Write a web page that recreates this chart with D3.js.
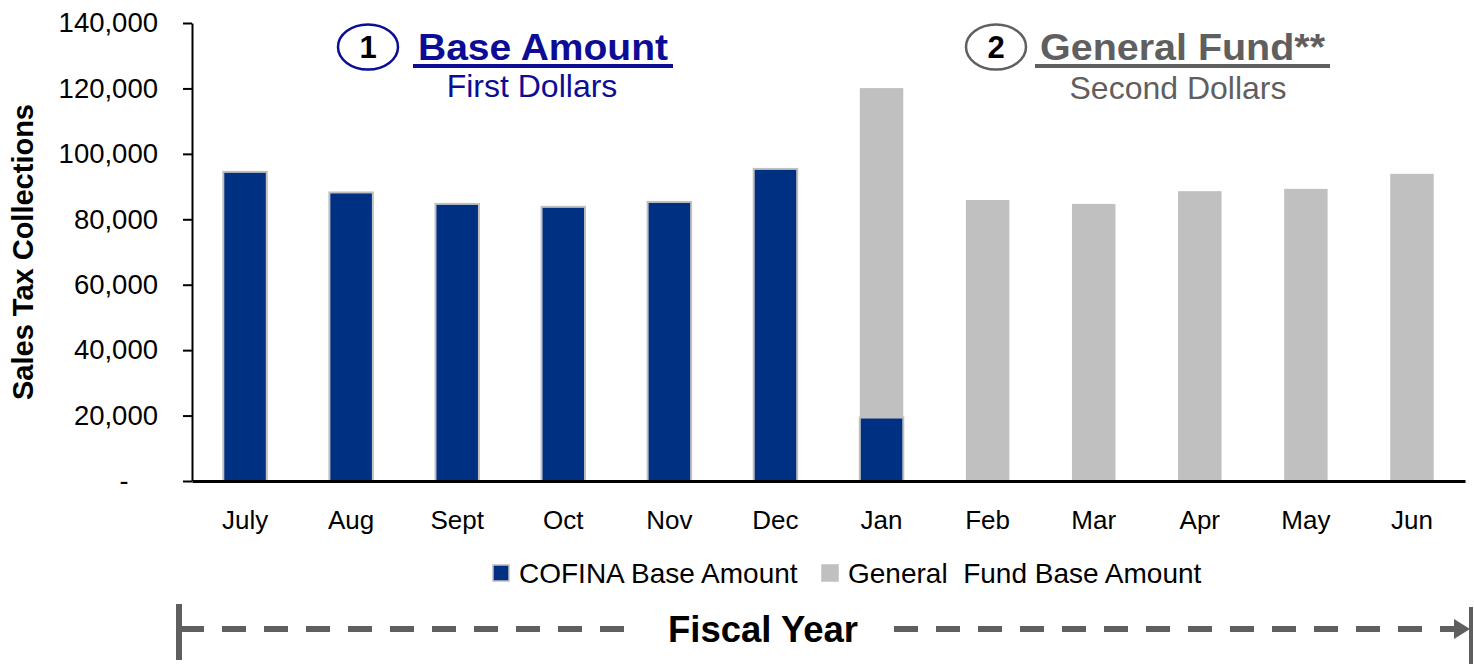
<!DOCTYPE html>
<html>
<head>
<meta charset="utf-8">
<script src="https://cdn.jsdelivr.net/npm/d3@7"></script>
<style>
	body { margin: 0; background: #fff; }
	svg { display: block; font-family: "Liberation Sans", Arial, sans-serif; }
</style>
</head>
<body>
<svg id="chart" width="1474" height="664"></svg>
<script>
let months = ["July", "Aug", "Sept", "Oct", "Nov", "Dec", "Jan", "Feb", "Mar", "Apr", "May", "Jun"];
let cofinaBase = [94500, 88200, 84700, 83800, 85300, 95400, 19400, 0, 0, 0, 0, 0];
let generalFundBase = [0, 0, 0, 0, 0, 0, 100700, 85900, 84700, 88600, 89300, 93900];
let yTicks = [0, 20000, 40000, 60000, 80000, 100000, 120000, 140000];
let seriesNames = ["COFINA Base Amount", "General  Fund Base Amount"];

let blue = "#003082";
let gray = "#c0c0c0";
let navy = "#0c0c94";
let darkGray = "#5f5f5f";

let svg = d3.select("#chart");

let x = d3.scaleBand()
	.domain(months)
	.range([192, 1465])
	.padding(0);

let y = d3.scaleLinear()
	.domain([0, 140000])
	.range([481, 23]);

let rows = months.map((m, i) => ({ month: m, cofina: cofinaBase[i], general: generalFundBase[i] }));
let stacked = d3.stack().keys(["cofina", "general"])(rows);
let fills = { cofina: blue, general: gray };

let barWidth = x.step() * 0.41;

// bars (gray first so the blue outline sits on top)
stacked.slice().reverse().forEach(layer => {
	svg.append("g")
		.selectAll("rect")
		.data(layer.filter(d => d[1] > d[0]))
		.join("rect")
		.attr("x", d => x(d.data.month) + (x.step() - barWidth) / 2)
		.attr("width", barWidth)
		.attr("y", d => y(d[1]))
		.attr("height", d => y(d[0]) - y(d[1]))
		.attr("fill", fills[layer.key])
		.attr("stroke", gray)
		.attr("stroke-width", layer.key == "cofina" ? 2 : 0);
});

// y axis
let yAxis = svg.append("g")
	.attr("transform", "translate(192,0)")
	.call(d3.axisLeft(y)
		.tickValues(yTicks)
		.tickSize(9)
		.tickSizeOuter(0)
		.tickPadding(25)
		.tickFormat(d => d == 0 ? "" : d3.format(",")(d)));
yAxis.select(".domain").attr("stroke", "#000").attr("stroke-width", 2);
yAxis.selectAll(".tick line").attr("stroke", "#000").attr("stroke-width", 2);
yAxis.selectAll(".tick text")
	.attr("fill", "#000")
	.attr("font-size", 27.5)
	.attr("font-family", "Liberation Sans, Arial, sans-serif");

svg.append("text")
	.attr("x", 124)
	.attr("y", y(0) + 9)
	.attr("text-anchor", "middle")
	.attr("font-size", 27)
	.text("-");

// x axis
let xAxis = svg.append("g")
	.attr("transform", "translate(0,481)")
	.call(d3.axisBottom(x).tickSize(0).tickSizeOuter(0).tickPadding(30));
xAxis.select(".domain").attr("stroke", "#000").attr("stroke-width", 3);
xAxis.selectAll(".tick text")
	.attr("fill", "#000")
	.attr("font-size", 26)
	.attr("font-family", "Liberation Sans, Arial, sans-serif");

// y title
svg.append("text")
	.attr("transform", "translate(33,252) rotate(-90)")
	.attr("text-anchor", "middle")
	.attr("font-size", 29)
	.attr("font-weight", "bold")
	.text("Sales Tax Collections");

// legend
let legendX = [493, 822];
seriesNames.forEach((name, i) => {
	svg.append("rect")
		.attr("x", legendX[i])
		.attr("y", 565)
		.attr("width", 16)
		.attr("height", 16)
		.attr("fill", i == 0 ? blue : gray)
		.attr("stroke", gray)
		.attr("stroke-width", 1.5);
	svg.append("text")
		.attr("x", legendX[i] + 26)
		.attr("y", 583)
		.attr("font-size", 28)
		.attr("xml:space", "preserve")
		.style("white-space", "pre")
		.text(name);
});

// numbered headers
function header(cx, num, title, sub, color, ringColor, titleX, titleW, subX, subY) {
	svg.append("ellipse")
		.attr("cx", cx)
		.attr("cy", 47)
		.attr("rx", 30)
		.attr("ry", 22.5)
		.attr("fill", "none")
		.attr("stroke", ringColor)
		.attr("stroke-width", 2.5);
	svg.append("text")
		.attr("x", cx)
		.attr("y", 58)
		.attr("text-anchor", "middle")
		.attr("font-size", 31)
		.attr("font-weight", "bold")
		.text(num);
	svg.append("text")
		.attr("x", titleX)
		.attr("y", 60)
		.attr("font-size", 37)
		.attr("font-weight", "bold")
		.attr("fill", color)
		.attr("textLength", titleW)
		.attr("lengthAdjust", "spacingAndGlyphs")
		.text(title);
	svg.append("rect")
		.attr("x", titleX - 5)
		.attr("y", 64)
		.attr("width", titleW + 10)
		.attr("height", 4)
		.attr("fill", color);
	svg.append("text")
		.attr("x", subX)
		.attr("y", subY)
		.attr("text-anchor", "middle")
		.attr("font-size", 32)
		.attr("fill", color)
		.text(sub);
}
header(368, "1", "Base Amount", "First Dollars", navy, navy, 418, 250, 532, 97);
header(996, "2", "General Fund**", "Second Dollars", darkGray, darkGray, 1040, 285, 1178, 99);

// fiscal year arrow
svg.append("line")
	.attr("x1", 179).attr("x2", 179)
	.attr("y1", 604).attr("y2", 660)
	.attr("stroke", darkGray).attr("stroke-width", 6);
svg.append("line")
	.attr("x1", 1471).attr("x2", 1471)
	.attr("y1", 607).attr("y2", 664)
	.attr("stroke", darkGray).attr("stroke-width", 4);

svg.append("line")
	.attr("x1", 180).attr("x2", 624)
	.attr("y1", 629).attr("y2", 629)
	.attr("stroke", darkGray).attr("stroke-width", 6)
	.attr("stroke-dasharray", "24,18");
svg.append("line")
	.attr("x1", 894).attr("x2", 1456)
	.attr("y1", 629).attr("y2", 629)
	.attr("stroke", darkGray).attr("stroke-width", 6)
	.attr("stroke-dasharray", "24,18");
svg.append("path")
	.attr("d", "M1454,619L1470,629L1454,639Z")
	.attr("fill", darkGray);

svg.append("text")
	.attr("x", 763)
	.attr("y", 642)
	.attr("text-anchor", "middle")
	.attr("font-size", 36.5)
	.attr("font-weight", "bold")
	.text("Fiscal Year");
</script>
</body>
</html>
